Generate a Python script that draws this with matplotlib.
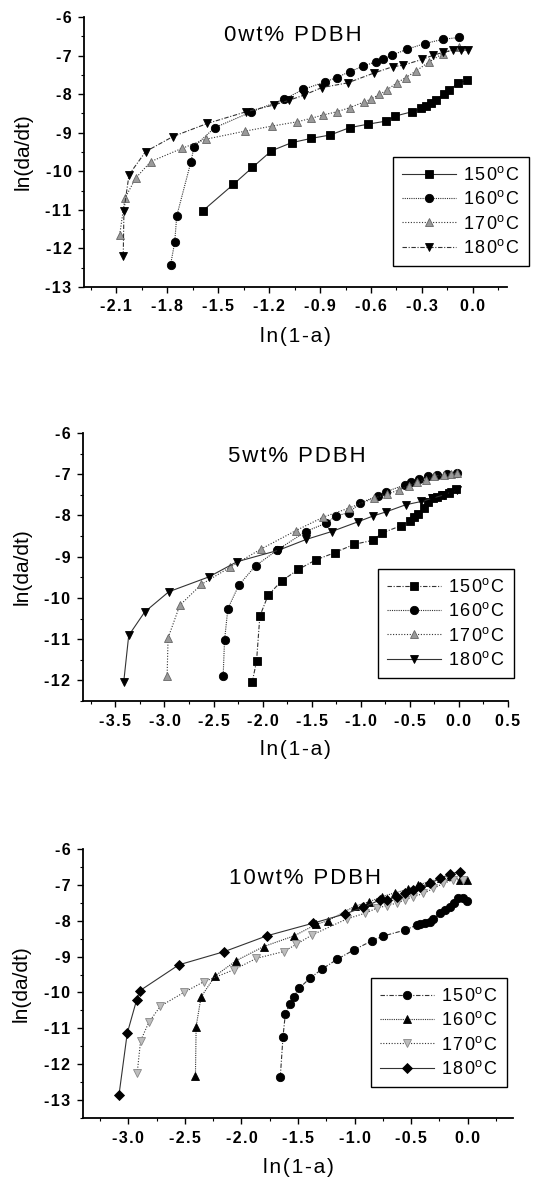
import matplotlib
matplotlib.use("Agg")
import matplotlib.pyplot as plt
import numpy as np
from matplotlib.ticker import MultipleLocator, FixedLocator

plt.rcParams['font.family'] = ['Liberation Sans', 'DejaVu Sans']
plt.rcParams['mathtext.fontset'] = 'custom'
plt.rcParams['mathtext.rm'] = 'Liberation Sans'

HS = "\u200a"  # hair space for letter spacing


def spaced(s):
    return HS.join(list(s))


temps = ["150", "160", "170", "180"]
titles = ["0wt% PDBH", "5wt% PDBH", "10wt% PDBH"]

# ---- Panel 1: 0wt% PDBH ----
p1_x150 = [-1.589, -1.41, -1.298, -1.186, -1.068, -0.954, -0.840, -0.726, -0.618, -0.511,
           -0.458, -0.360, -0.303, -0.276, -0.246, -0.217, -0.173, -0.138, -0.089, -0.036]
p1_y150 = [-11.02, -10.34, -9.90, -9.47, -9.26, -9.15, -9.06, -8.87, -8.78, -8.70,
           -8.57, -8.46, -8.37, -8.31, -8.22, -8.16, -8.00, -7.90, -7.72, -7.64]
p1_x160 = [-1.780, -1.756, -1.744, -1.660, -1.642, -1.520, -1.304, -1.111, -0.999, -0.869,
           -0.802, -0.726, -0.649, -0.570, -0.531, -0.476, -0.390, -0.283, -0.177, -0.079]
p1_y160 = [-12.42, -11.84, -11.16, -9.75, -9.36, -8.87, -8.46, -8.13, -7.88, -7.68,
           -7.57, -7.42, -7.28, -7.16, -7.10, -6.99, -6.84, -6.69, -6.58, -6.53]
p1_x170 = [-2.080, -2.049, -1.986, -1.897, -1.715, -1.573, -1.341, -1.184, -1.036, -0.954,
           -0.881, -0.802, -0.724, -0.639, -0.600, -0.551, -0.508, -0.449, -0.394, -0.335,
           -0.256, -0.177, -0.079]
p1_y170 = [-11.65, -10.70, -10.18, -9.75, -9.41, -9.17, -8.96, -8.83, -8.72, -8.63,
           -8.54, -8.46, -8.35, -8.20, -8.13, -8.01, -7.90, -7.71, -7.57, -7.40,
           -7.16, -6.95, -6.78]
p1_x180 = [-2.059, -2.055, -2.025, -1.927, -1.766, -1.563, -1.337, -1.170, -1.082, -0.997,
           -0.889, -0.738, -0.580, -0.472, -0.409, -0.299, -0.232, -0.177, -0.118, -0.069, -0.030]
p1_y180 = [-12.19, -11.02, -10.09, -9.49, -9.10, -8.76, -8.46, -8.28, -8.16, -8.03,
           -7.83, -7.71, -7.45, -7.29, -7.25, -7.10, -6.99, -6.92, -6.86, -6.86, -6.86]

# ---- Panel 2: 5wt% PDBH ----
p2_x150 = [-2.106, -2.062, -2.028, -1.943, -1.807, -1.637, -1.460, -1.263, -1.069, -0.872,
           -0.787, -0.593, -0.498, -0.457, -0.416, -0.355, -0.314, -0.263, -0.219, -0.168,
           -0.100, -0.032]
p2_y150 = [-12.04, -11.54, -10.44, -9.93, -9.59, -9.31, -9.08, -8.90, -8.70, -8.60,
           -8.43, -8.25, -8.13, -8.03, -7.96, -7.82, -7.68, -7.58, -7.54, -7.50,
           -7.46, -7.36]
p2_x160 = [-2.402, -2.388, -2.354, -2.242, -2.072, -1.851, -1.562, -1.358, -1.249, -1.120,
           -1.008, -0.824, -0.739, -0.552, -0.484, -0.406, -0.314, -0.226, -0.117, -0.015]
p2_y160 = [-11.90, -11.03, -10.26, -9.69, -9.22, -8.84, -8.39, -8.19, -8.01, -7.93,
           -7.70, -7.52, -7.42, -7.26, -7.18, -7.11, -7.05, -7.01, -7.00, -6.97]
p2_x170 = [-2.973, -2.963, -2.844, -2.623, -2.334, -2.021, -1.664, -1.382, -1.120, -0.865,
           -0.729, -0.610, -0.508, -0.423, -0.338, -0.253, -0.151, -0.083, -0.015]
p2_y170 = [-11.90, -10.97, -10.18, -9.67, -9.26, -8.82, -8.37, -8.04, -7.82, -7.58,
           -7.48, -7.38, -7.28, -7.18, -7.14, -7.05, -7.01, -6.99, -6.97]
p2_x180 = [-3.415, -3.364, -3.201, -2.956, -2.548, -2.259, -1.834, -1.555, -1.297, -1.025,
           -0.872, -0.739, -0.542, -0.382, -0.270, -0.151, -0.076, -0.015]
p2_y180 = [-12.04, -10.91, -10.34, -9.85, -9.49, -9.12, -8.84, -8.58, -8.39, -8.15,
           -8.01, -7.91, -7.74, -7.66, -7.58, -7.50, -7.42, -7.38]

# ---- Panel 3: 10wt% PDBH ----
p3_x150 = [-1.656, -1.632, -1.612, -1.574, -1.538, -1.488, -1.397, -1.288, -1.156, -1.009,
           -0.847, -0.750, -0.553, -0.450, -0.421, -0.377, -0.332, -0.303, -0.244, -0.200,
           -0.156, -0.121, -0.082, -0.038, -0.009]
p3_y150 = [-12.35, -11.23, -10.61, -10.33, -10.12, -9.88, -9.61, -9.35, -9.08, -8.82,
           -8.56, -8.43, -8.26, -8.12, -8.09, -8.07, -8.03, -7.95, -7.79, -7.70,
           -7.61, -7.50, -7.38, -7.38, -7.44]
p3_x160 = [-2.406, -2.400, -2.356, -2.229, -2.044, -1.803, -1.532, -1.338, -1.235, -0.994,
           -0.868, -0.759, -0.641, -0.524, -0.435, -0.338, -0.238, -0.156, -0.068, -0.009]
p3_y160 = [-12.33, -10.95, -10.12, -9.53, -9.11, -8.72, -8.42, -8.10, -8.00, -7.59,
           -7.47, -7.33, -7.22, -7.12, -7.00, -6.91, -6.82, -6.75, -6.86, -6.86]
p3_x170 = [-2.921, -2.891, -2.818, -2.715, -2.509, -2.332, -2.068, -1.868, -1.627, -1.515,
           -1.377, -1.068, -0.906, -0.803, -0.715, -0.627, -0.553, -0.480, -0.391, -0.303,
           -0.215, -0.127, -0.038]
p3_y170 = [-12.25, -11.35, -10.83, -10.38, -10.00, -9.70, -9.37, -9.05, -8.86, -8.66,
           -8.40, -7.95, -7.79, -7.65, -7.58, -7.51, -7.42, -7.33, -7.24, -7.10,
           -6.96, -6.86, -6.86]
p3_x180 = [-3.082, -3.009, -2.926, -2.897, -2.553, -2.150, -1.774, -1.368, -1.082, -0.927,
           -0.774, -0.709, -0.627, -0.553, -0.485, -0.421, -0.332, -0.244, -0.156, -0.068]
p3_y180 = [-12.86, -11.14, -10.21, -9.95, -9.23, -8.86, -8.42, -8.07, -7.81, -7.63,
           -7.42, -7.42, -7.33, -7.24, -7.14, -7.05, -6.96, -6.82, -6.70, -6.63]

# tick values per panel
p1_xticks = [-2.1, -1.8, -1.5, -1.2, -0.9, -0.6, -0.3, 0.0]
p2_xticks = [-3.5, -3.0, -2.5, -2.0, -1.5, -1.0, -0.5, 0.0, 0.5]
p3_xticks = [-3.0, -2.5, -2.0, -1.5, -1.0, -0.5, 0.0]
p1_yticks = [-6, -7, -8, -9, -10, -11, -12, -13]
p2_yticks = [-6, -7, -8, -9, -10, -11, -12]
p3_yticks = [-6, -7, -8, -9, -10, -11, -12, -13]

fig = plt.figure(figsize=(5.47, 11.77), dpi=100)

panels = [
    dict(rect=[0.1536, 0.7562, 0.773, 0.2294], xlim=(-2.29, 0.2), ylim=(-13, -6),
         xticks=p1_xticks, yticks=p1_yticks, xminor=0.15,
         data=[(p1_x150, p1_y150), (p1_x160, p1_y160), (p1_x170, p1_y170), (p1_x180, p1_y180)],
         markers=['s', 'o', '^', 'v'],
         faces=['black', 'black', '#9a9a9a', 'black'],
         edges=['black', 'black', '#666666', 'black'],
         styles=['-', (0, (1, 1)), (0, (1, 1.5)), (0, (4, 1.5, 1, 1.5))],
         title_xy=(0.494, 0.933), leg_xy=(0.730, 0.481)),
    dict(rect=[0.1517, 0.4044, 0.777, 0.2277], xlim=(-3.83, 0.5), ylim=(-12.5, -6),
         xticks=p2_xticks, yticks=p2_yticks, xminor=0.25,
         data=[(p2_x150, p2_y150), (p2_x160, p2_y160), (p2_x170, p2_y170), (p2_x180, p2_y180)],
         markers=['s', 'o', '^', 'v'],
         faces=['black', 'black', '#9a9a9a', 'black'],
         edges=['black', 'black', '#666666', 'black'],
         styles=[(0, (4, 1.5, 1, 1.5)), (0, (1, 1)), (0, (1, 1.5)), '-'],
         title_xy=(0.504, 0.914), leg_xy=(0.694, 0.493)),
    dict(rect=[0.1517, 0.0501, 0.786, 0.2286], xlim=(-3.4, 0.4), ylim=(-13.5, -6),
         xticks=p3_xticks, yticks=p3_yticks, xminor=0.25,
         data=[(p3_x150, p3_y150), (p3_x160, p3_y160), (p3_x170, p3_y170), (p3_x180, p3_y180)],
         markers=['o', '^', 'v', 'D'],
         faces=['black', 'black', '#bdbdbd', 'black'],
         edges=['black', 'black', '#888888', 'black'],
         styles=[(0, (4, 1.5, 1, 1.5)), (0, (1, 1)), (0, (1, 1.5)), '-'],
         title_xy=(0.516, 0.892), leg_xy=(0.670, 0.520)),
]

for i, p in enumerate(panels):
    ax = fig.add_axes(p['rect'])
    for k, (xs, ys) in enumerate(p['data']):
        ms = 6 if p['markers'][k] != 'D' else 5.5
        ax.plot(xs, ys, linestyle=p['styles'][k], color='#333333', lw=0.8,
                marker=p['markers'][k], markersize=ms,
                markerfacecolor=p['faces'][k], markeredgecolor=p['edges'][k],
                markeredgewidth=0.6,
                label=spaced(temps[k]) + r"$^{\mathrm{o}}$" + HS + "C")
    ax.set_xlim(*p['xlim'])
    ax.set_ylim(*p['ylim'])
    ax.spines['top'].set_visible(False)
    ax.spines['right'].set_visible(False)
    ax.spines['left'].set_linewidth(1.3)
    ax.spines['bottom'].set_linewidth(1.3)
    ax.set_xticks(p['xticks'])
    ax.set_xticklabels([spaced("%.1f" % (0.0 if abs(v) < 1e-9 else v)) for v in p['xticks']])
    ax.set_yticks(p['yticks'])
    ax.set_yticklabels([spaced(str(v)) for v in p['yticks']])
    ax.xaxis.set_minor_locator(MultipleLocator(p['xminor']))
    ax.yaxis.set_minor_locator(MultipleLocator(0.5))
    ax.tick_params(which='major', direction='out', length=4, width=1.0, pad=5,
                   labelsize=11.5)
    ax.tick_params(which='minor', direction='out', length=2.5, width=0.8)
    for lab in ax.get_xticklabels() + ax.get_yticklabels():
        lab.set_fontweight('bold')
    ax.set_ylabel("ln(da/dt)", fontsize=15, va='center')
    ax.yaxis.set_label_coords(-0.144, 0.5)
    ax.set_xlabel(spaced("ln(1-a)"), fontsize=15, va='center')
    ax.xaxis.set_label_coords(0.5, -0.182)
    ax.text(p['title_xy'][0], p['title_xy'][1], spaced(titles[i]), transform=ax.transAxes,
            ha='center', va='center', fontsize=16)
    leg = ax.legend(loc='upper left', bbox_to_anchor=p['leg_xy'], borderaxespad=0,
                    fontsize=13, frameon=True, fancybox=False, framealpha=1,
                    edgecolor='black', handlelength=3.0, labelspacing=0.35,
                    handletextpad=0.4, borderpad=0.5)
    leg.get_frame().set_linewidth(1.0)

fig.savefig("out.png", dpi=100)
